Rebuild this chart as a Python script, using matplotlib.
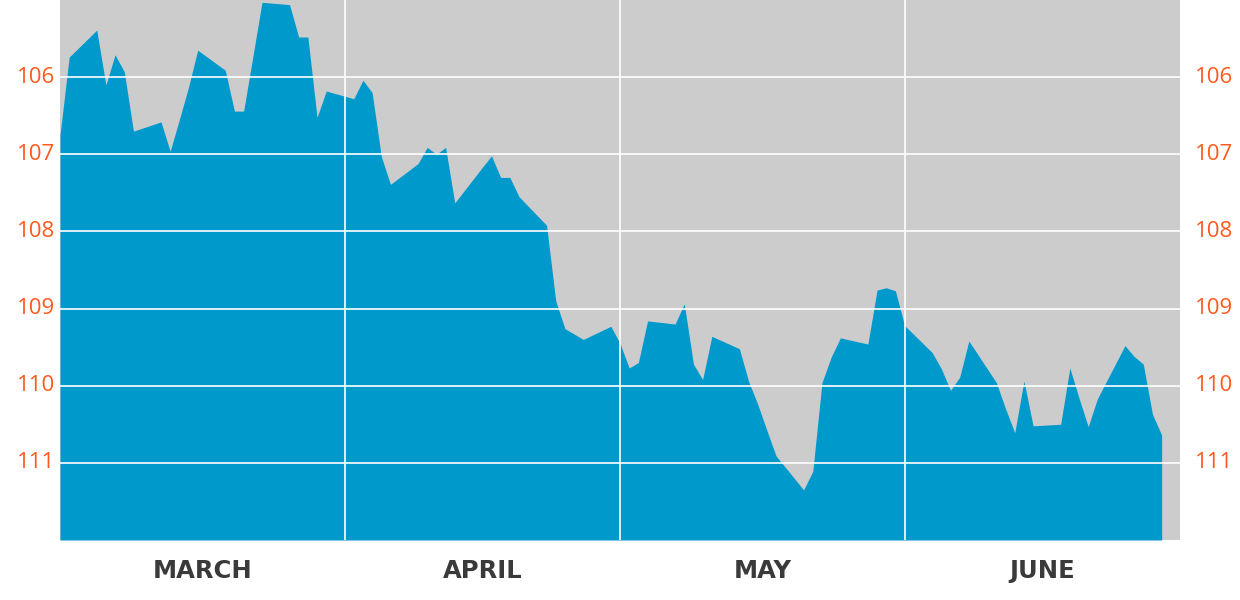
import numpy as np
import pandas as pd
import matplotlib
matplotlib.use("Agg")
import matplotlib.pyplot as plt
import matplotlib.transforms as mtransforms

# USD/JPY closes, weekdays 1 Mar - 29 Jun 2018 (axis is inverted)
mar = [106.75, 105.74, 105.39, 106.10, 105.71, 105.93, 106.70, 106.58, 106.96, 106.55,
       106.13, 105.65, 105.91, 106.44, 106.44, 105.74, 105.03, 105.06, 105.48, 105.48,
       106.52, 106.18]
apr = [106.28, 106.04, 106.20, 107.03, 107.39, 107.12, 106.91, 107.00, 106.91, 107.63,
       107.17, 107.02, 107.30, 107.30, 107.55, 107.92, 108.90, 109.26, 109.33, 109.40,
       109.23]
may = [109.45, 109.77, 109.70, 109.16, 109.20, 108.94, 109.72, 109.92, 109.36, 109.52,
       109.94, 110.24, 110.58, 110.91, 111.35, 111.11, 109.96, 109.63, 109.38, 109.46,
       108.76, 108.73, 108.77]
jun = [109.22, 109.57, 109.78, 110.06, 109.89, 109.42, 109.96, 110.30, 110.61, 109.94,
       110.52, 110.50, 109.77, 110.16, 110.53, 110.17, 109.48, 109.62, 109.72, 110.37,
       110.64]

dates = pd.bdate_range("2018-03-01", "2018-06-29")
values = np.array(mar + apr + may + jun)

months = ["MARCH", "APRIL", "MAY", "JUNE"]
month_starts = pd.to_datetime(["2018-03-01", "2018-04-01", "2018-05-01", "2018-06-01", "2018-07-01"])
yticks = [106, 107, 108, 109, 110, 111]

orange = "#ff5a1e"
blue = "#0099cc"

fig = plt.figure(figsize=(12.4, 6), dpi=100)
ax = fig.add_axes([60 / 1240, 60 / 600, 1120 / 1240, 540 / 600])
ax.set_facecolor("#cccccc")

ax.fill_between(dates, values, 112, color=blue, linewidth=0, zorder=1)

ax.set_xlim(month_starts[0], month_starts[-1])
ax.set_ylim(112, 105)

# white grid drawn over the area
for y in yticks:
    ax.axhline(y, color="white", lw=1.2, zorder=2)
for d in month_starts[1:-1]:
    ax.axvline(d, color="white", lw=1.2, zorder=2)

ax.set_xticks([])
ax.set_yticks([])
for s in ax.spines.values():
    s.set_visible(False)

trans_y = mtransforms.blended_transform_factory(fig.transFigure, ax.transData)
for y in yticks:
    ax.text(17 / 1240, y, str(y), transform=trans_y, ha="left", va="center",
            color=orange, fontsize=16, family="Open Sans")
    ax.text(1195 / 1240, y, str(y), transform=trans_y, ha="left", va="center",
            color=orange, fontsize=16, family="Open Sans")

trans_x = mtransforms.blended_transform_factory(ax.transData, fig.transFigure)
for i, name in enumerate(months):
    mid = month_starts[i] + (month_starts[i + 1] - month_starts[i]) / 2
    ax.text(mid, (600 - 571) / 600, name, transform=trans_x, ha="center", va="center",
            color="#3a3a3a", fontsize=17.5, fontweight="bold", family="DejaVu Sans")

fig.savefig("out.png", dpi=100)
